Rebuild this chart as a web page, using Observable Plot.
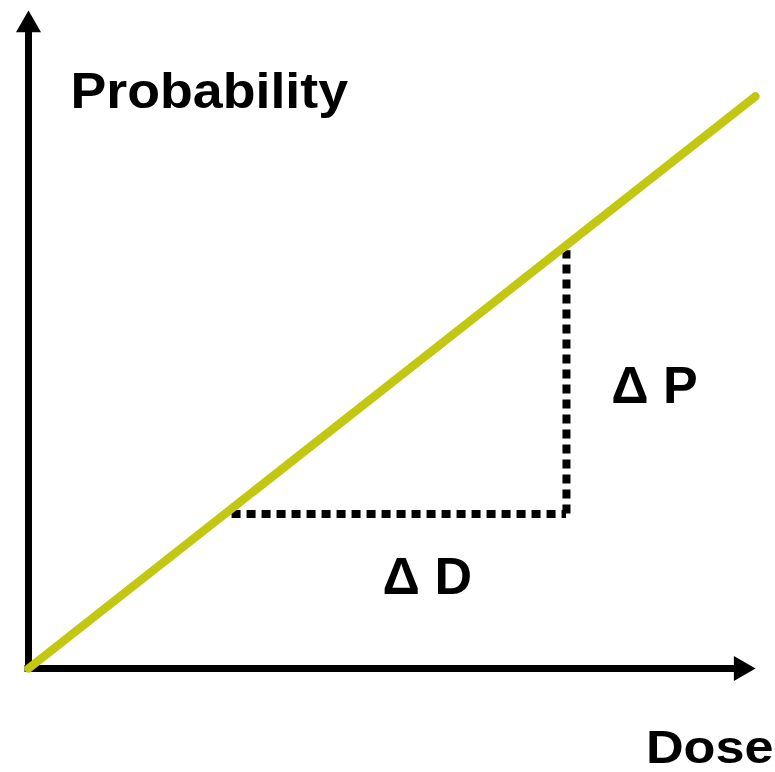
<!DOCTYPE html>
<html>
<head>
<meta charset="utf-8">
<script src="https://cdn.jsdelivr.net/npm/d3@7"></script>
<script src="https://cdn.jsdelivr.net/npm/@observablehq/plot@0.6"></script>
<style>
  body { margin: 0; background: #fff; }
  #chart svg { background: #fff; }
</style>
</head>
<body>
<div id="chart"></div>
<script>
// Axis extents (dose on x, probability on y)
const doseExtent = [0, 100];
const probabilityExtent = [0, 115];

// Linear dose–response line
const lineDose = [0, 100];
const lineProbability = [0, 100];

// Step used to read the slope: ΔD along x, ΔP along y
const stepDose = [28, 74];
const stepProbability = [27, 73];

const axisLabels = ["Probability", "Dose"];
const deltaLabels = ["Δ D", "Δ P"];

const font = "'Liberation Sans', Arial, Helvetica, sans-serif";
const green = "#c2c812";

const lineData = lineDose.map((d, i) => ({dose: d, probability: lineProbability[i]}));

const chart = Plot.plot({
  width: 775,
  height: 772,
  marginLeft: 28,
  marginRight: 20,
  marginTop: 10,
  marginBottom: 104,
  style: {fontFamily: font, background: "#fff", color: "#000"},
  x: {domain: doseExtent, axis: null},
  y: {domain: probabilityExtent, axis: null},
  marks: [
    // axes with filled arrowheads (y1 is the top end so the insets land where intended)
    Plot.ruleX([doseExtent[0]], {
      y1: probabilityExtent[1], y2: probabilityExtent[0],
      stroke: "#000", strokeWidth: 7, insetTop: 15, insetBottom: -3.5
    }),
    Plot.ruleY([probabilityExtent[0]], {
      x1: doseExtent[0], x2: doseExtent[1],
      stroke: "#000", strokeWidth: 7, insetRight: 15, insetLeft: -3.5
    }),
    Plot.dot([{x: doseExtent[0], y: probabilityExtent[1]}], {
      x: "x", y: "y", symbol: "triangle", r: 9.3, fill: "#000", stroke: null, dy: 14.4
    }),
    Plot.dot([{x: doseExtent[1], y: probabilityExtent[0]}], {
      x: "x", y: "y", symbol: "triangle", r: 9.3, fill: "#000", stroke: null, rotate: 90, dx: -14.4
    }),

    // dotted step: ΔD then ΔP
    Plot.ruleY([stepProbability[0]], {
      x1: stepDose[0], x2: stepDose[1],
      stroke: "#000", strokeWidth: 8, strokeDasharray: "9,6", strokeLinecap: "butt"
    }),
    Plot.ruleX([stepDose[1]], {
      y1: stepProbability[0], y2: stepProbability[1],
      stroke: "#000", strokeWidth: 8, strokeDasharray: "9,6", strokeLinecap: "butt"
    }),

    // dose–response line
    Plot.line(lineData, {
      x: "dose", y: "probability", stroke: green, strokeWidth: 8.5, strokeLinecap: "round"
    }),

    // axis titles
    Plot.text([axisLabels[0]], {
      text: d => d, frameAnchor: "top-left", dx: 42, dy: 97,
      textAnchor: "start", lineAnchor: "bottom",
      fontSize: 50, fontWeight: "bold", fontFamily: font, fill: "#000"
    }),
    Plot.text([axisLabels[1]], {
      text: d => d, frameAnchor: "bottom-right", dx: 18, dy: 94,
      textAnchor: "end", lineAnchor: "bottom",
      fontSize: 47, fontWeight: "bold", fontFamily: font, fill: "#000"
    }),

    // delta labels next to the step
    Plot.text([deltaLabels[0]], {
      x: () => (stepDose[0] + stepDose[1]) / 2, y: () => stepProbability[0],
      text: d => d, dx: 28, dy: 80, textAnchor: "middle", lineAnchor: "bottom",
      fontSize: 52, fontWeight: "bold", fontFamily: font, fill: "#000"
    }),
    Plot.text([deltaLabels[1]], {
      x: () => stepDose[1], y: () => (stepProbability[0] + stepProbability[1]) / 2,
      text: d => d, dx: 88, dy: 21, textAnchor: "middle", lineAnchor: "bottom",
      fontSize: 52, fontWeight: "bold", fontFamily: font, fill: "#000"
    })
  ]
});

document.getElementById("chart").append(chart);

// the axis titles are set in a slightly wide bold face
const stretch = {"Probability": 1.074, "Dose": 1.11};
d3.select(chart).selectAll("text").each(function() {
  const k = stretch[this.textContent];
  if (k) {
    this.setAttribute("textLength", this.getComputedTextLength() * k);
    this.setAttribute("lengthAdjust", "spacingAndGlyphs");
  }
});
</script>
</body>
</html>
